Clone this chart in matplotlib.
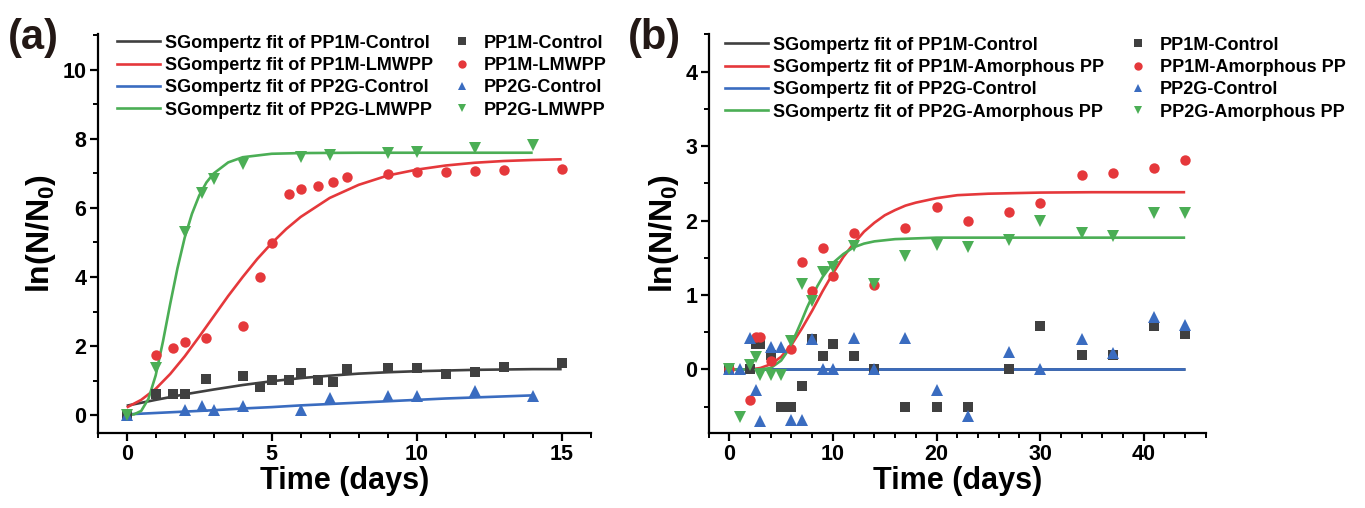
import matplotlib
matplotlib.use("Agg")
import matplotlib.pyplot as plt
from matplotlib.ticker import MultipleLocator
from matplotlib.lines import Line2D

plt.rcParams['font.family'] = ['Liberation Sans', 'DejaVu Sans']
plt.rcParams['font.weight'] = 'bold'
plt.rcParams['mathtext.fontset'] = 'custom'
plt.rcParams['mathtext.rm'] = 'Liberation Sans:bold'
plt.rcParams['mathtext.bf'] = 'Liberation Sans:bold'
plt.rcParams['mathtext.default'] = 'bf'

# colours of the four series
c_black = '#404040'
c_red = '#e5383b'
c_blue = '#3a6cc0'
c_green = '#4bae55'

# ---- panel (a) measured points ----
a_black_days = [0, 1, 1.6, 2, 2.75, 4, 4.6, 5, 5.6, 6, 6.6, 7.1, 7.6, 9, 10, 11, 12, 13, 15]
a_black_vals = [0, 0.61, 0.61, 0.61, 1.04, 1.13, 0.82, 1.03, 1.03, 1.21, 1.03, 0.95, 1.32, 1.35, 1.35, 1.18, 1.24, 1.40, 1.51]
a_red_days = [1, 1.6, 2, 2.75, 4, 4.6, 5, 5.6, 6, 6.6, 7.1, 7.6, 9, 10, 11, 12, 13, 15]
a_red_vals = [1.74, 1.93, 2.13, 2.24, 2.59, 4.01, 4.98, 6.41, 6.54, 6.65, 6.76, 6.89, 6.99, 7.04, 7.05, 7.08, 7.10, 7.12]
a_blue_days = [0, 2, 2.6, 3, 4, 6, 7, 9, 10, 12, 14]
a_blue_vals = [0, 0.16, 0.27, 0.16, 0.27, 0.16, 0.48, 0.55, 0.55, 0.71, 0.55]
a_green_days = [0, 1, 2, 2.6, 3, 4, 6, 7, 9, 10, 12, 14]
a_green_vals = [0, 1.35, 5.31, 6.43, 6.83, 7.28, 7.49, 7.52, 7.60, 7.62, 7.73, 7.83]

# ---- panel (a) SGompertz fit curves ----
a_fit_black_days = [0, 1, 2, 3, 4, 5, 6, 7, 8, 9, 10, 11, 12, 13, 14, 15]
a_fit_black_vals = [0.27, 0.44, 0.60, 0.74, 0.87, 0.98, 1.07, 1.14, 1.20, 1.24, 1.27, 1.29, 1.31, 1.32, 1.33, 1.33]
a_fit_red_days = [0, 0.5, 1, 1.5, 2, 2.5, 3, 3.5, 4, 4.5, 5, 5.5, 6, 7, 8, 9, 10, 11, 12, 13, 14, 15]
a_fit_red_vals = [0.22, 0.44, 0.76, 1.19, 1.70, 2.27, 2.86, 3.45, 4.00, 4.52, 4.98, 5.39, 5.74, 6.29, 6.67, 6.94, 7.11, 7.23, 7.31, 7.36, 7.39, 7.41]
a_fit_blue_days = [0, 1, 2, 3, 4, 5, 6, 7, 8, 9, 10, 11, 12, 13, 14]
a_fit_blue_vals = [0.02, 0.06, 0.10, 0.14, 0.19, 0.23, 0.28, 0.32, 0.36, 0.40, 0.44, 0.48, 0.51, 0.54, 0.57]
a_fit_green_days = [0, 0.25, 0.5, 0.75, 1, 1.25, 1.5, 1.75, 2, 2.25, 2.5, 2.75, 3, 3.5, 4, 5, 6, 8, 10, 14]
a_fit_green_vals = [0.00, 0.02, 0.12, 0.47, 1.15, 2.13, 3.22, 4.25, 5.14, 5.83, 6.36, 6.74, 7.00, 7.32, 7.47, 7.57, 7.59, 7.60, 7.60, 7.60]

# ---- panel (b) measured points ----
b_black_days = [0, 2, 2.6, 3, 4, 5, 6, 7, 8, 9, 10, 12, 14, 17, 20, 23, 27, 30, 34, 37, 41, 44]
b_black_vals = [0, 0, 0.34, 0.34, 0.19, -0.51, -0.51, -0.22, 0.41, 0.18, 0.34, 0.18, 0, -0.51, -0.51, -0.51, 0, 0.59, 0.19, 0.19, 0.59, 0.48]
b_red_days = [0, 2, 2.6, 3, 4, 6, 7, 8, 9, 10, 12, 14, 17, 20, 23, 27, 30, 34, 37, 41, 44]
b_red_vals = [0, -0.41, 0.44, 0.44, 0.11, 0.28, 1.44, 1.06, 1.63, 1.26, 1.83, 1.13, 1.90, 2.18, 1.99, 2.11, 2.24, 2.61, 2.64, 2.70, 2.81]
b_blue_days = [0, 1, 2, 2.6, 3, 4, 5, 6, 7, 8, 9, 10, 12, 14, 17, 20, 23, 27, 30, 34, 37, 41, 44]
b_blue_vals = [0, 0, 0.42, -0.28, -0.69, 0.30, 0.30, -0.68, -0.68, 0.41, 0.01, 0.01, 0.42, 0, 0.42, -0.28, -0.63, 0.24, 0, 0.41, 0.22, 0.70, 0.60]
b_green_days = [0, 1, 2, 2.6, 3, 4, 5, 6, 7, 8, 9, 10, 12, 14, 17, 20, 23, 27, 30, 34, 37, 41, 44]
b_green_vals = [0, -0.64, 0.06, 0.17, -0.07, -0.08, -0.08, 0.38, 1.15, 0.92, 1.31, 1.38, 1.66, 1.15, 1.53, 1.67, 1.65, 1.74, 2.00, 1.83, 1.79, 2.10, 2.10]

# ---- panel (b) SGompertz fit curves ----
b_fit_black_days = [0, 44]
b_fit_black_vals = [0, 0]
b_fit_red_days = [0, 2, 3, 4, 5, 6, 7, 8, 9, 10, 11, 12, 13, 14, 15, 16, 17, 18, 19, 20, 22, 25, 30, 35, 44]
b_fit_red_vals = [0, 0.00, 0.02, 0.07, 0.17, 0.33, 0.55, 0.79, 1.05, 1.29, 1.51, 1.69, 1.85, 1.97, 2.07, 2.14, 2.20, 2.24, 2.27, 2.30, 2.34, 2.36, 2.375, 2.38, 2.38]
b_fit_blue_days = [0, 44]
b_fit_blue_vals = [0, 0]
b_fit_green_days = [0, 3, 4, 5, 5.5, 6, 6.5, 7, 7.5, 8, 8.5, 9, 10, 11, 12, 13, 14, 16, 20, 44]
b_fit_green_vals = [0, 0.00, 0.02, 0.12, 0.22, 0.35, 0.50, 0.66, 0.83, 0.98, 1.12, 1.24, 1.43, 1.55, 1.64, 1.69, 1.72, 1.75, 1.77, 1.77]

a_names = ['PP1M-Control', 'PP1M-LMWPP', 'PP2G-Control', 'PP2G-LMWPP']
b_names = ['PP1M-Control', 'PP1M-Amorphous PP', 'PP2G-Control', 'PP2G-Amorphous PP']

colors = [c_black, c_red, c_blue, c_green]
markers = ['s', 'o', '^', 'v']
msizes = [6.5, 7.5, 8, 8]

W, H = 1365, 508
fig = plt.figure(figsize=(W / 100, H / 100), dpi=100)
ax_a = fig.add_axes([97.7 / W, 1 - 433 / H, 493 / W, 399 / H])
ax_b = fig.add_axes([708.6 / W, 1 - 432.8 / H, 497.3 / W, 398.5 / H])


def draw(ax, fits, points, names, legend_x, legend_top):
    for (d, v), col in zip(fits, colors):
        ax.plot(d, v, color=col, lw=1.9, solid_capstyle='butt')
    for (d, v), col, m, ms in zip(points, colors, markers, msizes):
        ax.plot(d, v, ls='none', marker=m, ms=ms, color=col, mew=0, clip_on=False)

    for s in ['top', 'right']:
        ax.spines[s].set_visible(False)
    for s in ['left', 'bottom']:
        ax.spines[s].set_linewidth(1.6)
    ax.tick_params(which='major', direction='out', length=6, width=1.6, labelsize=15.5, pad=2)
    ax.tick_params(which='minor', direction='out', length=3.5, width=1.4)
    ax.set_xlabel('Time (days)', fontsize=22, fontweight='bold', labelpad=1)
    ax.set_ylabel(r'ln(N/N$_0$)', fontsize=23, fontweight='bold', labelpad=3)

    # two legend columns: fit lines, then the measured points
    line_handles = [Line2D([], [], color=c, lw=1.9) for c in colors]
    pt_handles = [Line2D([], [], ls='none', marker=m, color=c, ms=ms * 0.8, mew=0)
                  for c, m, ms in zip(colors, markers, msizes)]
    top = 1 - legend_top / H
    fig.legend(line_handles, ['SGompertz fit of ' + n for n in names],
               loc='upper left', bbox_to_anchor=(legend_x[0] / W, top),
               frameon=False, borderpad=0, borderaxespad=0,
               handlelength=2.4, handletextpad=0.25, labelspacing=0.3,
               prop={'size': 13, 'weight': 'bold'})
    fig.legend(pt_handles, names,
               loc='upper left', bbox_to_anchor=(legend_x[1] / W, top),
               frameon=False, borderpad=0, borderaxespad=0,
               handlelength=1.0, handletextpad=0.7, labelspacing=0.3,
               prop={'size': 13, 'weight': 'bold'})


draw(ax_a,
     [(a_fit_black_days, a_fit_black_vals), (a_fit_red_days, a_fit_red_vals),
      (a_fit_blue_days, a_fit_blue_vals), (a_fit_green_days, a_fit_green_vals)],
     [(a_black_days, a_black_vals), (a_red_days, a_red_vals),
      (a_blue_days, a_blue_vals), (a_green_days, a_green_vals)],
     a_names, (117, 453), 34.5)
ax_a.set_xlim(-1, 16)
ax_a.set_ylim(-0.52, 11.04)
ax_a.xaxis.set_major_locator(MultipleLocator(5))
ax_a.xaxis.set_minor_locator(MultipleLocator(1))
ax_a.yaxis.set_minor_locator(MultipleLocator(1))
ax_a.set_yticks([0, 2, 4, 6, 8, 10])

draw(ax_b,
     [(b_fit_black_days, b_fit_black_vals), (b_fit_red_days, b_fit_red_vals),
      (b_fit_blue_days, b_fit_blue_vals), (b_fit_green_days, b_fit_green_vals)],
     [(b_black_days, b_black_vals), (b_red_days, b_red_vals),
      (b_blue_days, b_blue_vals), (b_green_days, b_green_vals)],
     b_names, (725, 1129), 36.5)
ax_b.set_xlim(-2, 46)
ax_b.set_ylim(-0.85, 4.5)
ax_b.xaxis.set_minor_locator(MultipleLocator(2))
ax_b.yaxis.set_minor_locator(MultipleLocator(0.5))
ax_b.set_xticks([0, 10, 20, 30, 40])
ax_b.set_yticks([0, 1, 2, 3, 4])

for ax in (ax_a, ax_b):
    for lab in ax.get_xticklabels() + ax.get_yticklabels():
        lab.set_fontweight('bold')

fig.text(8 / W, 1 - 38 / H, '(a)', fontsize=30, fontweight='bold', color='#231815', va='center', ha='left')
fig.text(628 / W, 1 - 38 / H, '(b)', fontsize=30, fontweight='bold', color='#231815', va='center', ha='left')

fig.savefig('out.png', dpi=100)
